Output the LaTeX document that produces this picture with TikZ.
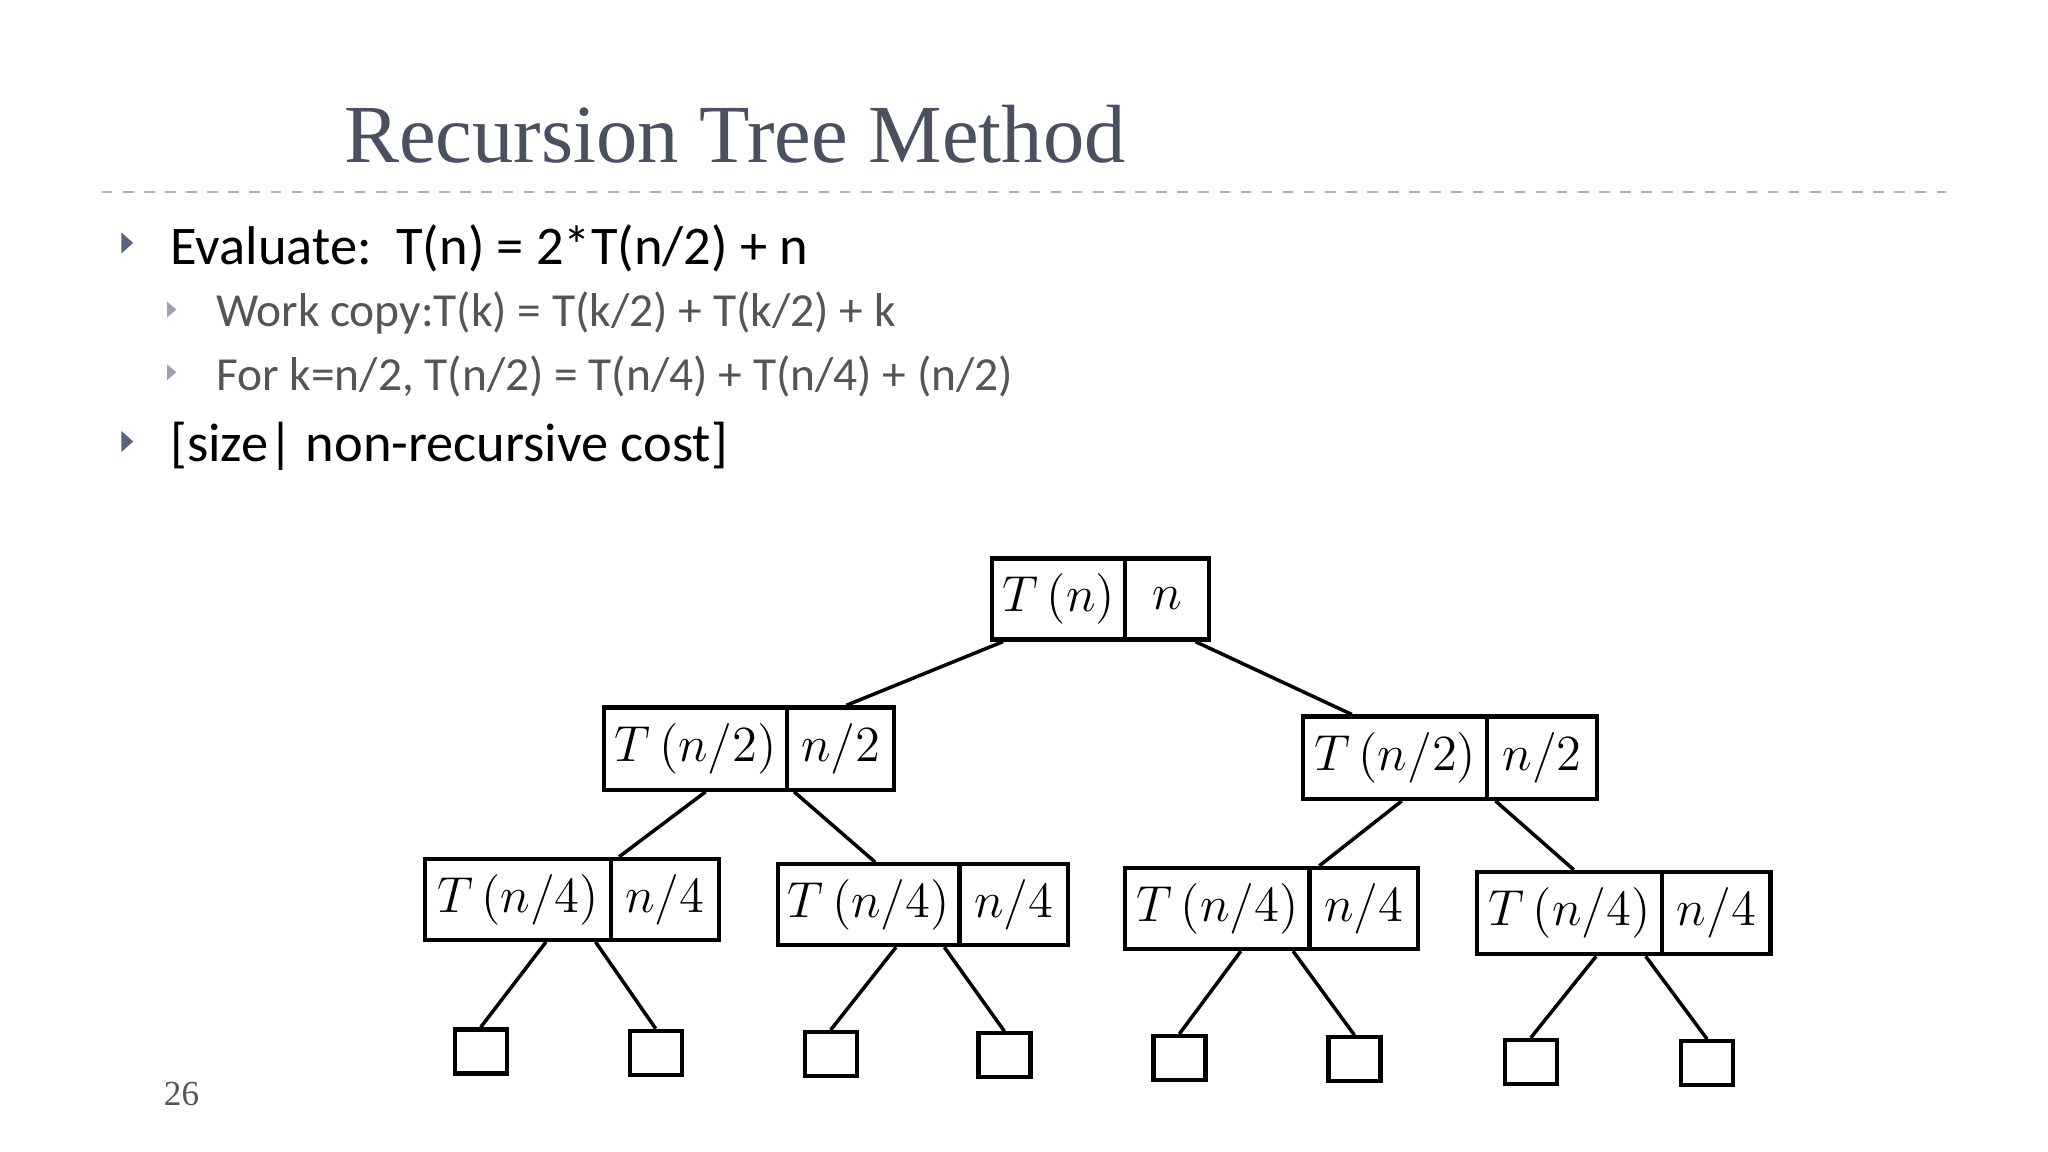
\documentclass[tikz,border=0pt]{standalone}
\usepackage{fontspec}
\setmainfont{Liberation Serif}
\newfontfamily\bodyfont{Carlito}
\usetikzlibrary{calc}
\definecolor{titlec}{HTML}{4A5060}
\definecolor{subc}{HTML}{555555}
\definecolor{bulc}{HTML}{5A6480}
\tikzset{
 cell/.style={draw, line width=1.2pt, inner sep=0pt, anchor=north west, font=\fontsize{14}{17}\selectfont},
 leaf/.style={draw, line width=1.2pt, minimum width=0.52cm, minimum height=0.44cm, inner sep=0pt},
 edge/.style={line width=1.0pt},
}
\newcommand{\tri}[2]{\fill[bulc] (#1-4,#2-8) -- (#1+5,#2) -- (#1-4,#2+8) -- cycle;}
\newcommand{\stri}[2]{\fill[bulc!60] (#1-3,#2-6) -- (#1+4,#2) -- (#1-3,#2+6) -- cycle;}
\begin{document}
\begin{tikzpicture}[x=0.013061cm,y=-0.013061cm]
\useasboundingbox (0,0) rectangle (1568,882);
\node[anchor=west, text=titlec, font=\fontsize{23.5}{28}\selectfont] (title) at (254,103) {Recursion Tree Method};
\draw[dashed, gray!60, line width=0.6pt] (78,147) -- (1490,147);
\tri{97}{186}
\node[anchor=west, font=\bodyfont\fontsize{15.5}{19}\selectfont] (b1) at (121,190) {Evaluate:\ \ T(n) = 2*T(n/2) + n};
\stri{131}{237}
\node[anchor=west, text=subc, font=\bodyfont\fontsize{13.5}{16}\selectfont] (s1) at (156,240) {Work copy:T(k) = T(k/2) + T(k/2) + k};
\stri{131}{285}
\node[anchor=west, text=subc, font=\bodyfont\fontsize{13.5}{16}\selectfont] (s2) at (156,288) {For k=n/2,\ T(n/2) = T(n/4) + T(n/4) + (n/2)};
\tri{97}{338}
\node[anchor=west, font=\bodyfont\fontsize{15.5}{19}\selectfont] (b2) at (121,342) {[size| non-recursive cost]};
\node[anchor=west, text=subc, font=\fontsize{10}{12}\selectfont] (pg) at (116,838) {26};
\node[cell, minimum width=102*0.013061cm, minimum height=62*0.013061cm] (rL) at (758,426) {$T\,(n)$};
\node[cell, minimum width=64*0.013061cm, minimum height=62*0.013061cm] (rR) at (860,426) {$n$};
\node[cell, minimum width=140*0.013061cm, minimum height=63*0.013061cm] (aL) at (461,540) {$T\,(n/2)$};
\node[cell, minimum width=82*0.013061cm, minimum height=63*0.013061cm] (aR) at (601,540) {$n/2$};
\node[cell, minimum width=141*0.013061cm, minimum height=63*0.013061cm] (bL) at (996,547) {$T\,(n/2)$};
\node[cell, minimum width=84*0.013061cm, minimum height=63*0.013061cm] (bR) at (1137,547) {$n/2$};
\node[cell, minimum width=142*0.013061cm, minimum height=62*0.013061cm] (cL) at (324,656) {$T\,(n/4)$};
\node[cell, minimum width=83*0.013061cm, minimum height=62*0.013061cm] (cR) at (466,656) {$n/4$};
\node[cell, minimum width=139*0.013061cm, minimum height=62*0.013061cm] (dL) at (594,660) {$T\,(n/4)$};
\node[cell, minimum width=83*0.013061cm, minimum height=62*0.013061cm] (dR) at (733,660) {$n/4$};
\node[cell, minimum width=141*0.013061cm, minimum height=62*0.013061cm] (eL) at (860,663) {$T\,(n/4)$};
\node[cell, minimum width=83*0.013061cm, minimum height=62*0.013061cm] (eR) at (1001,663) {$n/4$};
\node[cell, minimum width=142*0.013061cm, minimum height=63*0.013061cm] (fL) at (1129,666) {$T\,(n/4)$};
\node[cell, minimum width=83*0.013061cm, minimum height=63*0.013061cm] (fR) at (1271,666) {$n/4$};
\node[leaf] (l1) at (368,805) {}; \node[leaf] (l2) at (502,806) {};
\node[leaf] (l3) at (636,807) {}; \node[leaf] (l4) at (769,808) {};
\node[leaf] (l5) at (903,810) {}; \node[leaf] (l6) at (1037,811) {};
\node[leaf] (l7) at (1172,813) {}; \node[leaf] (l8) at (1307,814) {};
\draw[edge] ([xshift=10*0.013061cm]rL.south west) -- ([xshift=187*0.013061cm]aL.north west);
\draw[edge] ([xshift=-12*0.013061cm]rR.south east) -- ([xshift=39*0.013061cm]bL.north west);
\draw[edge] ([xshift=-64*0.013061cm]aL.south east) -- ([xshift=150*0.013061cm]cL.north west);
\draw[edge] ([xshift=7*0.013061cm]aR.south west) -- ([xshift=76*0.013061cm]dL.north west);
\draw[edge] ([xshift=-67*0.013061cm]bL.south east) -- ([xshift=150*0.013061cm]eL.north west);
\draw[edge] ([xshift=8*0.013061cm]bR.south west) -- ([xshift=76*0.013061cm]fL.north west);
\draw[edge] ([xshift=94*0.013061cm]cL.south west) -- (l1.north);
\draw[edge] ([xshift=132*0.013061cm]cL.south west) -- (l2.north);
\draw[edge] ([xshift=92*0.013061cm]dL.south west) -- (l3.north);
\draw[edge] ([xshift=129*0.013061cm]dL.south west) -- (l4.north);
\draw[edge] ([xshift=90*0.013061cm]eL.south west) -- (l5.north);
\draw[edge] ([xshift=130*0.013061cm]eL.south west) -- (l6.north);
\draw[edge] ([xshift=93*0.013061cm]fL.south west) -- (l7.north);
\draw[edge] ([xshift=131*0.013061cm]fL.south west) -- (l8.north);
\end{tikzpicture}
\end{document}
